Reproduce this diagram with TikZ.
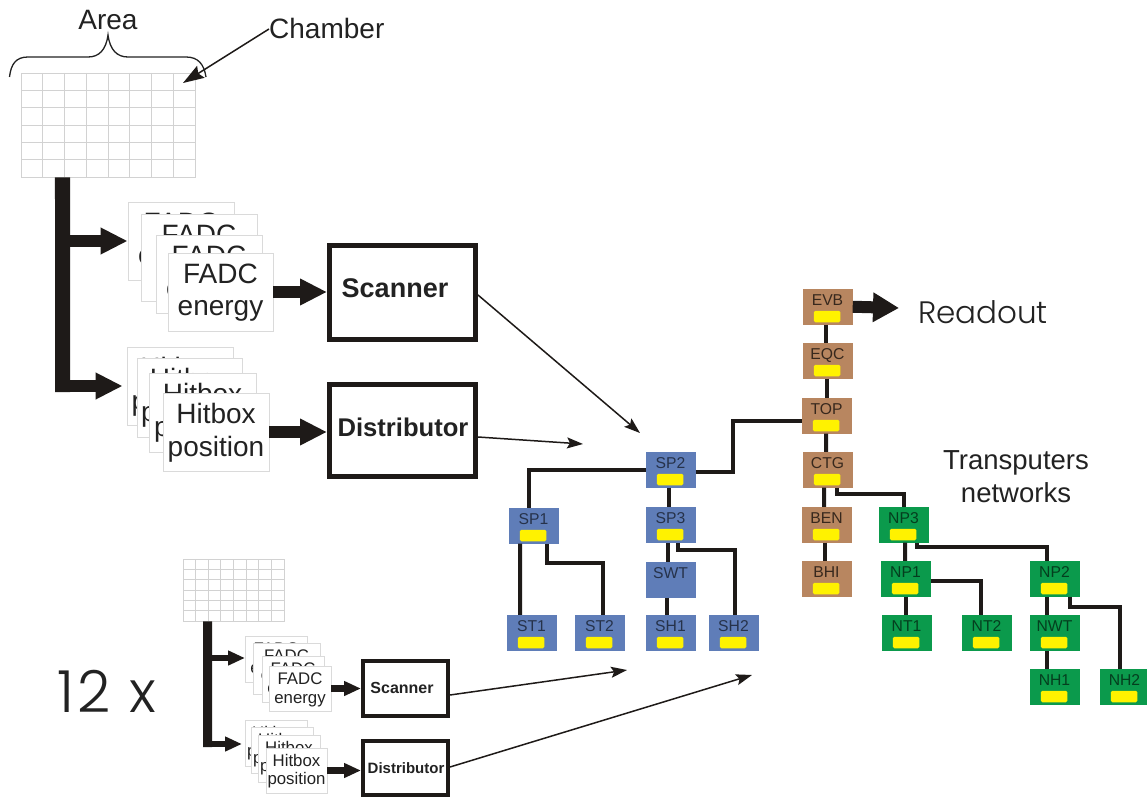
\documentclass[tikz,border=0pt]{standalone}
\usepackage{fontspec}
\setmainfont{Liberation Sans}
\newfontfamily\geo[UprightFont={* Light}]{Poppins}
\usetikzlibrary{arrows.meta,calc}
\definecolor{inkc}{HTML}{222222}
\definecolor{barc}{HTML}{1E1A18}
\definecolor{gridc}{HTML}{D2D2D2}
\definecolor{cardc}{HTML}{DADADA}
\definecolor{bluec}{HTML}{5F7DB8}
\definecolor{brownc}{HTML}{B88660}
\definecolor{greenc}{HTML}{0B9A4C}
\definecolor{chipc}{HTML}{FFF200}
\newcommand{\fsz}[1]{\fontsize{#1bp}{#1bp}\selectfont}
\tikzset{
  x=1bp,y=-1bp,
  txt/.style={anchor=base,inner sep=0pt,text=inkc},
  cardbox/.style={draw=cardc,line width=0.8bp,fill=white,inner sep=0pt},
  unitbox/.style={draw=none,inner sep=0pt,minimum width=49.5bp,minimum height=35.5bp},
  bluebox/.style={unitbox,fill=bluec},
  brownbox/.style={unitbox,fill=brownc},
  greenbox/.style={unitbox,fill=greenc},
  chip/.style={fill=chipc,draw=none,rounded corners=1.5bp,minimum width=26.5bp,minimum height=11.5bp,inner sep=0pt},
  link/.style={draw=barc,line width=4bp},
  bigbus/.style={draw=barc,line width=15bp},
  smallbus/.style={draw=barc,line width=9bp},
  bigarrow/.style={draw=barc,fill=barc,line width=12bp,-{Triangle[length=27bp,width=25bp]}},
  smallarrow/.style={draw=barc,fill=barc,line width=6.5bp,-{Triangle[length=17bp,width=14bp]}},
  thinarrow/.style={draw=barc,line width=1.5bp,-{Stealth[length=16bp,width=11bp,inset=3bp]}},
  bigbox/.style={draw=barc,line width=5bp,fill=white,inner sep=0pt,minimum width=146bp},
  smallbox/.style={draw=barc,line width=4bp,fill=white,inner sep=0pt,minimum width=85bp},
}
% name, x1, y1, x2, y2, line1, line2, baseline offsets
\newcommand{\card}[9]{%
  \node[cardbox,minimum width={(#4-#2)*1bp},minimum height={(#5-#3)*1bp}] (#1) at ({(#2+#4)/2},{(#3+#5)/2}) {};
  \node[txt,font=\cardfont] (#1-a) at ({(#2+#4)/2},{#3+#8}) {#6};
  \node[txt,font=\cardfont] (#1-b) at ({(#2+#4)/2},{#3+#9}) {#7};
}
% name, x1, y1, width, height
\newcommand{\cells}[5]{%
  \node[draw=gridc,line width=0.8bp,inner sep=0pt,minimum width=#4bp,minimum height=#5bp] (#1) at ({#2+#4/2},{#3+#5/2}) {};
  \foreach \i in {1,...,7} \draw[gridc,line width=0.8bp] ({#2+\i*#4/8},#3) -- ({#2+\i*#4/8},{#3+#5});
  \foreach \i in {1,...,5} \draw[gridc,line width=0.8bp] (#2,{#3+\i*#5/6}) -- ({#2+#4},{#3+\i*#5/6});
}
% name, label, x1, y1, style, label colour
\newcommand{\unit}[6]{%
  \node[#5] (#1) at ({#3+24.75},{#4+17.75}) {};
  \node[txt,font=\fsz{15.7},text=#6] (#1-l) at ({#3+24.5},{#4+16}) {#2};
}
\begin{document}
\begin{tikzpicture}
\useasboundingbox[fill=white] (0,0) rectangle (1147,798);

% ---- large chamber
\cells{gridA}{21}{73}{174}{104}
\node[txt,font=\fsz{28}] (area) at (108,30) {Area};
\node[txt,font=\fsz{28},anchor=base west] (chamber) at (269,39) {Chamber};
\coordinate (chamberTip) at (183,83);
\draw[draw=barc,line width=1.5bp,-{Stealth[length=21bp,width=14bp,inset=3bp]}] (chamber.west) -- (chamberTip);
\draw[inkc,line width=1.3bp] (9.5,77) .. controls (11,64) and (16,57) .. (28,57) -- (88,57)
  .. controls (99,57) and (106,50) .. (108,35) .. controls (110,50) and (117,57) .. (128,57) -- (186,57)
  .. controls (198,57) and (204,64) .. (206,77);

\coordinate (busA) at (62.5,392);
\draw[bigbus] ([xshift=-45.5bp]gridA.south) -- (busA);

\def\cardfont{\fsz{28}}
\card{Fa}{128}{202}{234}{280}{FADC}{energy}{30}{62}
\card{Fb}{141}{214}{257}{301}{FADC}{energy}{30}{62}
\card{Fc}{156}{235}{262}{313}{FADC}{energy}{30}{62}
\card{Fd}{168}{253}{273}{331}{FADC}{energy}{30}{62}
\card{Ha}{127}{347}{233}{425}{Hitbox}{position}{30}{63}
\card{Hb}{137}{358}{242}{437}{Hitbox}{position}{30}{63}
\card{Hc}{149}{373}{256}{452}{Hitbox}{position}{30}{63}
\card{Hd}{163}{393}{269}{471}{Hitbox}{position}{30}{63}

\draw[bigarrow] (busA |- Fa.west) -- (Fa.west);
\draw[bigarrow,shorten >=4bp] (busA |- Ha.west) -- (Ha.west);

\node[bigbox,minimum height=94bp] (scanA) at (402.5,292.5) {};
\node[bigbox,minimum height=92bp] (distA) at (402.5,430.5) {};
\node[txt,font=\fsz{27}\bfseries] (scanAl) at (395,297) {Scanner};
\node[txt,font=\fsz{25.6}\bfseries] (distAl) at (403,436) {Distributor};
\draw[bigarrow] (Fd.east) -- (Fd.east -| scanA.west);
\draw[bigarrow] (Hd.east) -- (Hd.east -| distA.west);

\coordinate (tipA) at (640,433);
\coordinate (tipB) at (583,444);
\draw[thinarrow] ([yshift=-2.5bp]scanA.east) -- (tipA);
\draw[thinarrow] ([yshift=-6.5bp]distA.east) -- (tipB);

% ---- small chamber
\cells{gridB}{183}{559}{101}{62}
\coordinate (busB) at (207.5,747);
\draw[smallbus] ([xshift=-26bp]gridB.south) -- (busB);

\def\cardfont{\fsz{16.8}}
\card{fa}{245}{636}{307}{682}{FADC}{energy}{18}{37}
\card{fb}{253}{643}{320}{694}{FADC}{energy}{18}{37}
\card{fc}{262}{656}{324}{702}{FADC}{energy}{18}{37}
\card{fd}{269}{666}{331}{711}{FADC}{energy}{18}{37}
\card{ha}{245}{720}{307}{766}{Hitbox}{position}{18}{36}
\card{hb}{251}{727}{313}{773}{Hitbox}{position}{18}{36}
\card{hc}{258}{735}{320}{782}{Hitbox}{position}{18}{36}
\card{hd}{266}{748}{327}{793}{Hitbox}{position}{18}{36}

\coordinate (fw) at (245,658);
\coordinate (hw) at (242,744);
\draw[smallarrow] (busB |- fw) -- (fw);
\draw[smallarrow] (busB |- hw) -- (hw);

\node[smallbox,minimum height=55bp] (scanB) at (405.5,688.5) {};
\node[smallbox,minimum height=54bp] (distB) at (405.5,768) {};
\node[txt,font=\fsz{16}\bfseries] (scanBl) at (402,693) {Scanner};
\node[txt,font=\fsz{15}\bfseries] (distBl) at (406,773) {Distributor};
\draw[smallarrow] (fd.east) -- (fd.east -| scanB.west);
\draw[smallarrow] (hd.east) -- (hd.east -| distB.west);

\coordinate (tipC) at (627,670);
\coordinate (tipD) at (752,675);
\draw[thinarrow] ([yshift=-6.5bp]scanB.east) -- (tipC);
\draw[thinarrow] ([yshift=1bp]distB.east) -- (tipD);

\node[txt,font=\geo\fsz{58}] (twelve) at (107,712) {1\hspace{3bp}2\hspace{3bp} x};

% ---- transputer nodes
\unit{SP2}{SP2}{646}{452}{bluebox}{black!60!bluec}
\unit{SP1}{SP1}{509}{508}{bluebox}{black!60!bluec}
\unit{SP3}{SP3}{646}{507}{bluebox}{black!60!bluec}
\unit{SWT}{SWT}{646}{562}{bluebox}{black!60!bluec}
\unit{ST1}{ST1}{507}{615}{bluebox}{black!60!bluec}
\unit{ST2}{ST2}{575}{615}{bluebox}{black!60!bluec}
\unit{SH1}{SH1}{646}{615}{bluebox}{black!60!bluec}
\unit{SH2}{SH2}{709}{615}{bluebox}{black!60!bluec}
\unit{EVB}{EVB}{803}{289}{brownbox}{black!70!brownc}
\unit{EQC}{EQC}{803}{343}{brownbox}{black!70!brownc}
\unit{TOP}{TOP}{802}{398}{brownbox}{black!70!brownc}
\unit{CTG}{CTG}{803}{452}{brownbox}{black!70!brownc}
\unit{BEN}{BEN}{802}{507}{brownbox}{black!70!brownc}
\unit{BHI}{BHI}{802}{561}{brownbox}{black!70!brownc}
\unit{NP3}{NP3}{879}{507}{greenbox}{black!60!greenc}
\unit{NP1}{NP1}{881}{561}{greenbox}{black!60!greenc}
\unit{NP2}{NP2}{1030}{561}{greenbox}{black!60!greenc}
\unit{NT1}{NT1}{882}{615}{greenbox}{black!60!greenc}
\unit{NT2}{NT2}{962}{615}{greenbox}{black!60!greenc}
\unit{NWT}{NWT}{1030}{615}{greenbox}{black!60!greenc}
\unit{NH1}{NH1}{1030}{669}{greenbox}{black!60!greenc}
\unit{NH2}{NH2}{1100}{669}{greenbox}{black!60!greenc}
\foreach \n in {SP2,SP1,SP3,ST1,ST2,SH1,SH2,EVB,EQC,TOP,CTG,BEN,BHI,NP3,NP1,NP2,NT1,NT2,NWT,NH1,NH2}
  \node[chip] (\n-c) at ([xshift=-0.75bp,yshift=-9.75bp]\n.center) {};

% ---- links
\draw[link] (SP2.west) -| ([xshift=-4.75bp]SP1.north);
\draw[link] ([yshift=-2bp]SP2.east) -- ++(37,0) |- ([yshift=-5bp]TOP.west);
\draw[link] ([xshift=-2bp]SP2.south) -- ([xshift=-2bp]SP3.north);
\draw[link] ([xshift=-13.75bp]SP1.south) -- ([xshift=-11.75bp]ST1.north);
\draw[link] ([xshift=13.25bp]SP1.south) -- ++(0,19) -| ([xshift=3.25bp]ST2.north);
\draw[link] ([xshift=-2.75bp]SP3.south) -- ([xshift=-2.75bp]SWT.north);
\draw[link] ([xshift=7.25bp]SP3.south) -- ++(0,7) -| ([xshift=1.25bp]SH2.north);
\draw[link] ([xshift=-3.75bp]SWT.south) -- ([xshift=-3.75bp]SH1.north);
\draw[link] ([xshift=-1.75bp]EVB.south) -- ([xshift=-1.75bp]EQC.north);
\draw[link] ([xshift=-0.75bp]EQC.south) -- ([xshift=0.25bp]TOP.north);
\draw[link] ([xshift=-0.75bp]TOP.south) -- ([xshift=-1.75bp]CTG.north);
\draw[link] ([xshift=-3.75bp]CTG.south) -- ([xshift=-2.75bp]BEN.north);
\draw[link] ([xshift=-2.25bp]BEN.south) -- ([xshift=-2.25bp]BHI.north);
\draw[link] ([xshift=9.25bp]CTG.south) -- ++(0,6) -| (NP3.north);
\draw[link] ([xshift=1.25bp]NP3.south) -- ([xshift=-0.75bp]NP1.north);
\draw[link] ([xshift=13.25bp]NP3.south) -- ++(0,4) -| ([xshift=-7.75bp]NP2.north);
\draw[link] ([xshift=0.25bp]NP1.south) -- ([xshift=-0.75bp]NT1.north);
\draw[link] ([yshift=-2.25bp]NP1.east) -| ([xshift=-5.75bp]NT2.north);
\draw[link] ([xshift=-7.75bp]NP2.south) -- ([xshift=-7.75bp]NWT.north);
\draw[link] ([xshift=15.25bp]NP2.south) -- ++(0,10) -| ([xshift=-4.75bp]NH2.north);
\draw[link] ([xshift=-7.75bp]NWT.south) -- ([xshift=-7.75bp]NH1.north);

\coordinate (tipR) at (899,308);
\draw[bigarrow,-{Triangle[length=26bp,width=28bp]}] (EVB.east) -- (tipR);
\node[txt,font=\geo\fsz{31}] (readout) at (983,323) {Readout};
\node[txt,font=\fsz{27.5}] (trans) at (1016,469) {Transputers};
\node[txt,font=\fsz{27.5}] (netw) at (1016,502) {networks};
\end{tikzpicture}
\end{document}
